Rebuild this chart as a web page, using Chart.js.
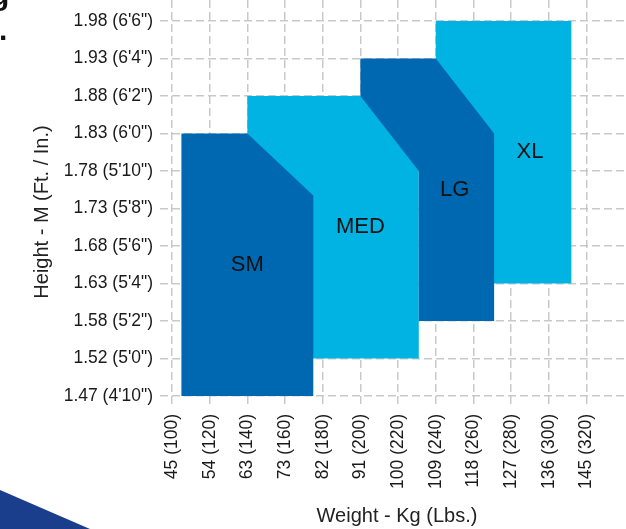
<!DOCTYPE html>
<html>
<head>
<meta charset="utf-8">
<script src="https://cdn.jsdelivr.net/npm/chart.js@4"></script>
<style>
  html, body { margin: 0; padding: 0; background: #fff; overflow: hidden; }
  #wrap { position: relative; width: 626px; height: 529px; }
  #sizeChart { display: block; }
  #corner { position: absolute; left: 0; bottom: 0; width: 90px; height: 39px; background: #1a3e8c;
            clip-path: polygon(0 0, 100% 100%, 0 100%); }
  .frag { position: absolute; font: bold 30px "Liberation Sans", sans-serif; line-height: 30px; color: #111; }
</style>
</head>
<body>
<div id="wrap">
  <canvas id="sizeChart" width="626" height="529" style="width:626px;height:529px"></canvas>
  <div id="corner"></div>
  <div class="frag" style="left:-9px;top:-20px">g</div>
  <div class="frag" style="left:-1px;top:15px">.</div>
</div>
<script>
// Ejes: peso en libras (x), altura en pulgadas (y)
const weightLbs = [100, 120, 140, 160, 180, 200, 220, 240, 260, 280, 300, 320];
const weightLabels = ['45 (100)', '54 (120)', '63 (140)', '73 (160)', '82 (180)', '91 (200)',
  '100 (220)', '109 (240)', '118 (260)', '127 (280)', '136 (300)', '145 (320)'];
const heightIn = [58, 60, 62, 64, 66, 68, 70, 72, 74, 76, 78];
const heightLabels = ["1.47 (4'10\")", "1.52 (5'0\")", "1.58 (5'2\")", "1.63 (5'4\")", "1.68 (5'6\")",
  "1.73 (5'8\")", "1.78 (5'10\")", "1.83 (6'0\")", "1.88 (6'2\")", "1.93 (6'4\")", "1.98 (6'6\")"];

// Zonas de cada talla (vértices: libras / pulgadas)
const smX = [105, 105, 140, 175, 175];
const smY = [58, 72, 72, 68.7, 58];
const medX = [140, 140, 231, 231];
const medY = [60, 74, 74, 60];
const lgX = [200, 240, 271, 271, 231, 231, 200];
const lgY = [76, 76, 72, 62, 62, 70, 74];
const xlX = [240, 240, 312, 312];
const xlY = [64, 78, 78, 64];

const sizeNames = ['SM', 'MED', 'LG', 'XL'];
const sizeLabelX = [140, 200, 250, 290];
const sizeLabelY = [65, 67, 69, 71];

const DARK = '#0067b1';
const LIGHT = '#00b3e3';
const FONT = '"Liberation Sans", Arial, sans-serif';

function toPoints(xs, ys) {
  return xs.map((x, i) => ({ x: x, y: ys[i] }));
}

function shape(label, xs, ys, color) {
  return {
    label: label,
    data: toPoints(xs, ys),
    backgroundColor: color,
    borderColor: color,
    borderWidth: 0,
    pointRadius: 0,
    tension: 0,
    fill: 'shape'
  };
}

// sin márgenes extra para las etiquetas de los extremos
function noPadding(scale) {
  scale.paddingTop = 0;
  scale.paddingBottom = 0;
  scale.paddingLeft = 0;
  scale.paddingRight = 0;
}

const overlayText = {
  id: 'overlayText',
  afterDraw(chart) {
    const ctx = chart.ctx;
    const xs = chart.scales.x;
    const ys = chart.scales.y;
    ctx.save();
    ctx.fillStyle = '#111';
    ctx.textAlign = 'center';
    ctx.textBaseline = 'middle';
    ctx.font = '22px ' + FONT;
    sizeNames.forEach((name, i) => {
      ctx.fillText(name, xs.getPixelForValue(sizeLabelX[i]), ys.getPixelForValue(sizeLabelY[i]));
    });

    ctx.fillStyle = '#222';
    ctx.font = '20px ' + FONT;
    ctx.fillText('Weight - Kg (Lbs.)', 397, 516);
    ctx.translate(42, 212);
    ctx.rotate(-Math.PI / 2);
    ctx.fillText('Height - M (Ft. / In.)', 0, 0);
    ctx.restore();
  }
};

const ctx = document.getElementById('sizeChart').getContext('2d');

// el primer dataset queda encima
new Chart(ctx, {
  type: 'line',
  data: {
    datasets: [
      shape('LG', lgX, lgY, DARK),
      shape('SM', smX, smY, DARK),
      shape('MED', medX, medY, LIGHT),
      shape('XL', xlX, xlY, LIGHT)
    ]
  },
  options: {
    responsive: false,
    animation: false,
    layout: { padding: 0 },
    plugins: {
      legend: { display: false },
      tooltip: { enabled: false }
    },
    scales: {
      x: {
        type: 'linear',
        min: 100,
        max: 341,
        z: 1,
        afterFit: function(scale) { scale.height = 133; noPadding(scale); },
        afterBuildTicks: function(axis) { axis.ticks = weightLbs.map(v => ({ value: v })); },
        border: { display: false, dash: [8, 4] },
        grid: { color: 'rgba(195,195,195,0.9)', lineWidth: 1.5, tickLength: 12, tickBorderDash: [8, 4] },
        ticks: {
          autoSkip: false,
          minRotation: 90,
          maxRotation: 90,
          padding: 6,
          color: '#1a1a1a',
          font: { family: FONT, size: 17.5 },
          callback: function(value, index) { return weightLabels[index]; }
        }
      },
      y: {
        type: 'linear',
        min: 58,
        max: 79.12,
        z: 1,
        afterFit: function(scale) { scale.width = 172; noPadding(scale); },
        afterBuildTicks: function(axis) { axis.ticks = heightIn.map(v => ({ value: v })); },
        border: { display: false, dash: [8, 4] },
        grid: { color: 'rgba(195,195,195,0.9)', lineWidth: 1.5, tickLength: 12, tickBorderDash: [8, 4] },
        ticks: {
          padding: 7,
          color: '#1a1a1a',
          font: { family: FONT, size: 17.5 },
          callback: function(value, index) { return heightLabels[index]; }
        }
      }
    }
  },
  plugins: [overlayText]
});
</script>
</body>
</html>
